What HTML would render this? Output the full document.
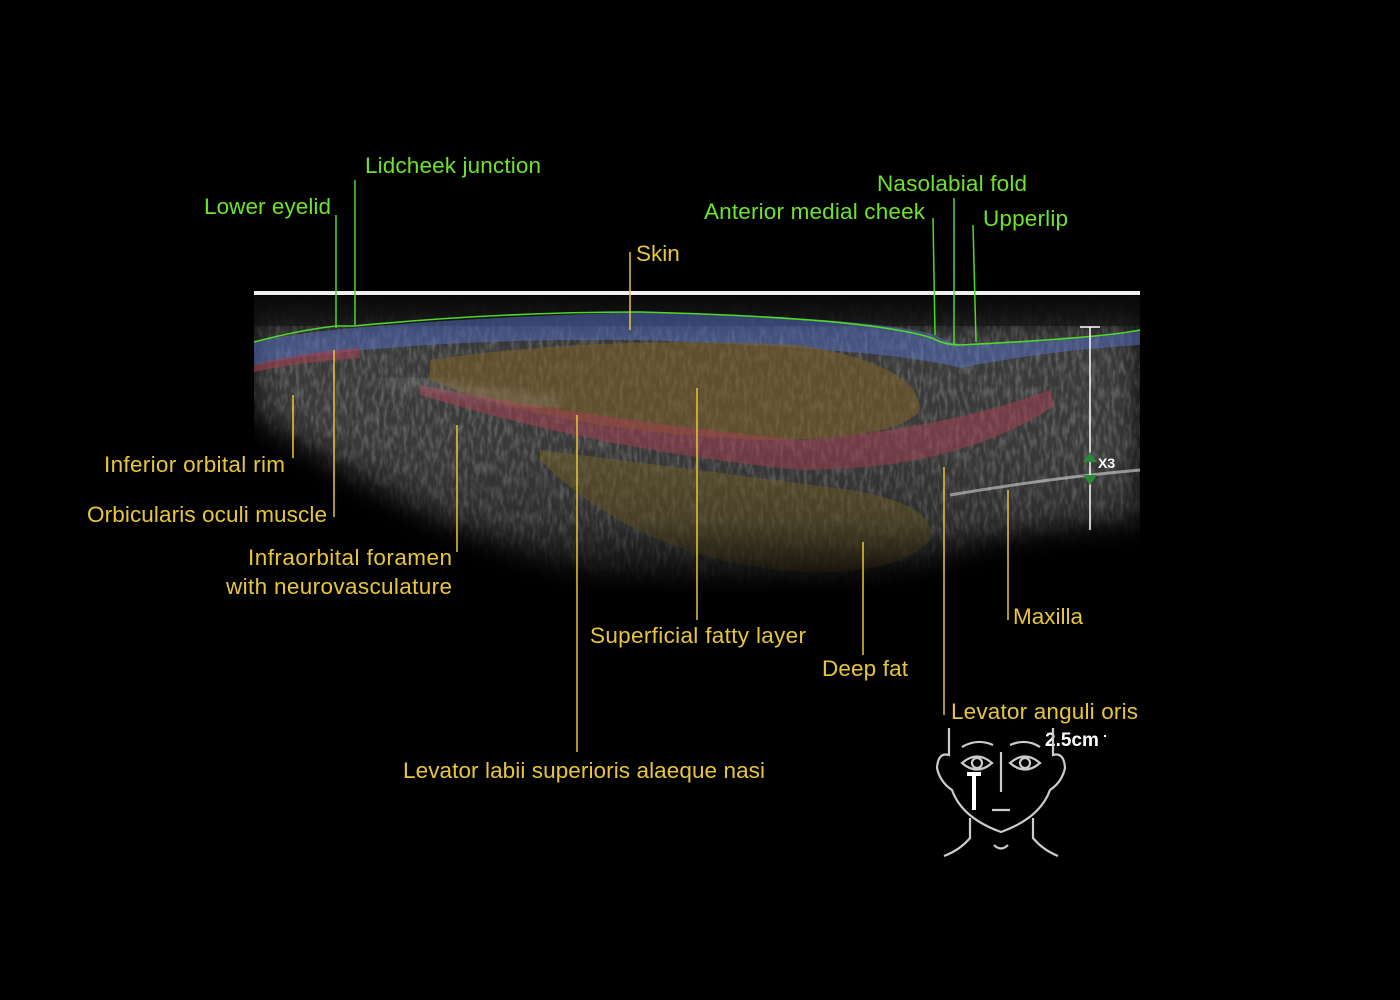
<!DOCTYPE html>
<html><head><meta charset="utf-8"><style>
html,body{margin:0;padding:0;background:#000;}
svg{display:block}
text{font-family:"Liberation Sans",sans-serif;font-size:22.5px}
.g{fill:#6fe22a}.y{fill:#e8c63a}
</style></head><body>
<svg width="1400" height="1000" viewBox="0 0 1400 1000" xmlns="http://www.w3.org/2000/svg">
<defs>
<filter id="noise" x="0" y="0" width="100%" height="100%">
<feTurbulence type="fractalNoise" baseFrequency="0.25 0.08" numOctaves="2" seed="3"/>
<feColorMatrix type="matrix" values="0 0 0 0 1  0 0 0 0 1  0 0 0 0 1  0 0 0 1.4 -0.55"/>
</filter>
<filter id="bl"><feGaussianBlur stdDeviation="6"/></filter>
<filter id="bl2"><feGaussianBlur stdDeviation="14"/></filter>
<linearGradient id="vf" x1="0" y1="0" x2="0" y2="1">
<stop offset="0" stop-color="#000" stop-opacity="0"/><stop offset="0.5" stop-color="#000" stop-opacity="0.2"/><stop offset="1" stop-color="#000" stop-opacity="1"/></linearGradient>
<clipPath id="us"><rect x="254" y="293" width="886" height="300"/></clipPath>
<mask id="tm"><path d="M254,320 L1140,320 L1140,520 Q1000,530 940,560 Q800,600 600,580 Q450,540 254,410 Z" fill="#fff" filter="url(#bl2)"/></mask>
</defs>
<rect width="1400" height="1000" fill="#000"/>
<g clip-path="url(#us)">
<g mask="url(#tm)">
<rect x="254" y="293" width="886" height="300" fill="#3a3a3a"/>
<rect x="254" y="293" width="886" height="300" filter="url(#noise)" opacity="0.35"/>
</g>
<rect x="254" y="296" width="886" height="30" fill="#111" opacity="0.6"/>
<path d="M254,342 Q340,322 640,312 Q880,318 935,335 Q960,350 1000,342 Q1100,338 1140,330 L1140,345 Q1050,350 960,368 Q900,350 640,340 Q400,338 254,365 Z" fill="#5570c8" opacity="0.5"/>
<path d="M430,360 Q600,335 800,345 Q920,365 920,410 Q900,440 760,440 Q550,430 430,380 Z" fill="#7a5e28" opacity="0.6"/>
<path d="M420,385 Q600,420 800,440 Q940,430 1050,390 L1055,405 Q960,470 800,470 Q600,450 420,395 Z" fill="#a04050" opacity="0.55"/>
<path d="M254,365 Q300,352 360,348 L360,358 Q300,362 254,372Z" fill="#a04050" opacity="0.6"/>
<path d="M540,450 Q700,470 850,490 Q940,505 930,540 Q900,575 800,572 Q640,560 540,460 Z" fill="#7a6428" opacity="0.5"/>
<path d="M380,380 Q500,395 560,405" stroke="#ddd" stroke-width="3" fill="none" opacity="0.6" filter="url(#bl)"/>
<path d="M950,495 Q1050,478 1140,470" stroke="#eee" stroke-width="3" fill="none" opacity="0.6"/>
<rect x="254" y="440" width="886" height="160" fill="url(#vf)"/>
</g>
<rect x="254" y="291" width="886" height="4" fill="#eee"/>
<path d="M254,342 Q300,330 336,326 L354,326 Q500,312 640,312 Q870,318 932,338 Q945,345 960,345 Q1100,338 1140,330" stroke="#4ed82a" stroke-width="1.6" fill="none"/>
<g stroke="#e8c63a" stroke-width="1.5">
<line x1="293" y1="395" x2="293" y2="458"/><line x1="334" y1="350" x2="334" y2="517"/>
<line x1="457" y1="425" x2="457" y2="552"/><line x1="577" y1="415" x2="577" y2="752"/>
<line x1="697" y1="388" x2="697" y2="620"/><line x1="863" y1="542" x2="863" y2="655"/>
<line x1="944" y1="467" x2="944" y2="715"/><line x1="1008" y1="490" x2="1008" y2="620"/>
<line x1="630" y1="252" x2="630" y2="330"/>
</g>
<g stroke="#4ed82a" stroke-width="1.5">
<line x1="336" y1="215" x2="336" y2="328"/><line x1="355" y1="180" x2="355" y2="325"/>
<line x1="933" y1="218" x2="935" y2="335"/><line x1="954" y1="198" x2="954" y2="345"/>
<line x1="973" y1="225" x2="976" y2="342"/>
</g>
<g stroke="#fff" stroke-width="1.5"><line x1="1090" y1="327" x2="1090" y2="530"/><line x1="1080" y1="327" x2="1100" y2="327"/></g>
<path d="M1090,452 l-7,10 h14z M1090,485 l-7,-10 h14z" fill="#2a8a3a"/>
<text x="1098" y="468" fill="#fff" style="font-size:14px;font-weight:bold">X3</text>
<text x="365" y="173" class="g" textLength="176">Lidcheek junction</text>
<text x="204" y="214" class="g" textLength="127">Lower eyelid</text>
<text x="636" y="261" class="y">Skin</text>
<text x="877" y="191" class="g" textLength="150">Nasolabial fold</text>
<text x="704" y="219" class="g" textLength="221">Anterior medial cheek</text>
<text x="983" y="226" class="g" textLength="85">Upperlip</text>
<text x="104" y="472" class="y" textLength="181">Inferior orbital rim</text>
<text x="87" y="522" class="y" textLength="240">Orbicularis oculi muscle</text>
<text x="248" y="565" class="y" textLength="204">Infraorbital foramen</text>
<text x="226" y="594" class="y" textLength="226">with neurovasculature</text>
<text x="590" y="643" class="y" textLength="216">Superficial fatty layer</text>
<text x="822" y="676" class="y" textLength="86">Deep fat</text>
<text x="1013" y="624" class="y" textLength="70">Maxilla</text>
<text x="951" y="719" class="y" textLength="187">Levator anguli oris</text>
<text x="403" y="778" class="y" textLength="362">Levator labii superioris alaeque nasi</text>
<text x="1045" y="746" fill="#fff" style="font-size:19px;font-weight:bold">2.5cm</text>
<rect x="1104" y="735" width="2" height="2" fill="#fff"/>
<g stroke="#ccc" stroke-width="2.2" fill="none">
<path d="M949,728 V755 Q938,752 937,768 Q940,782 952,790 Q962,818 1001,832 Q1040,818 1050,790 Q1062,782 1065,768 Q1064,752 1053,755 V728"/>
<path d="M962,747 Q977,738 993,745 M1010,745 Q1026,738 1040,747"/>
<path d="M962,763 Q977,750 992,763 Q977,776 962,763Z M1010,763 Q1025,750 1040,763 Q1025,776 1010,763Z"/>
<circle cx="977" cy="763" r="5"/><circle cx="1025" cy="763" r="5"/>
<line x1="1001" y1="752" x2="1001" y2="792"/><line x1="992" y1="810" x2="1010" y2="810"/>
<path d="M970,818 V838 Q960,850 944,856 M1033,818 V838 Q1043,850 1058,856 M994,845 Q1001,852 1008,845"/>
</g>
<g fill="#fff"><rect x="972" y="772" width="4" height="38"/><rect x="967" y="772" width="14" height="4"/></g>
</svg>
</body></html>
